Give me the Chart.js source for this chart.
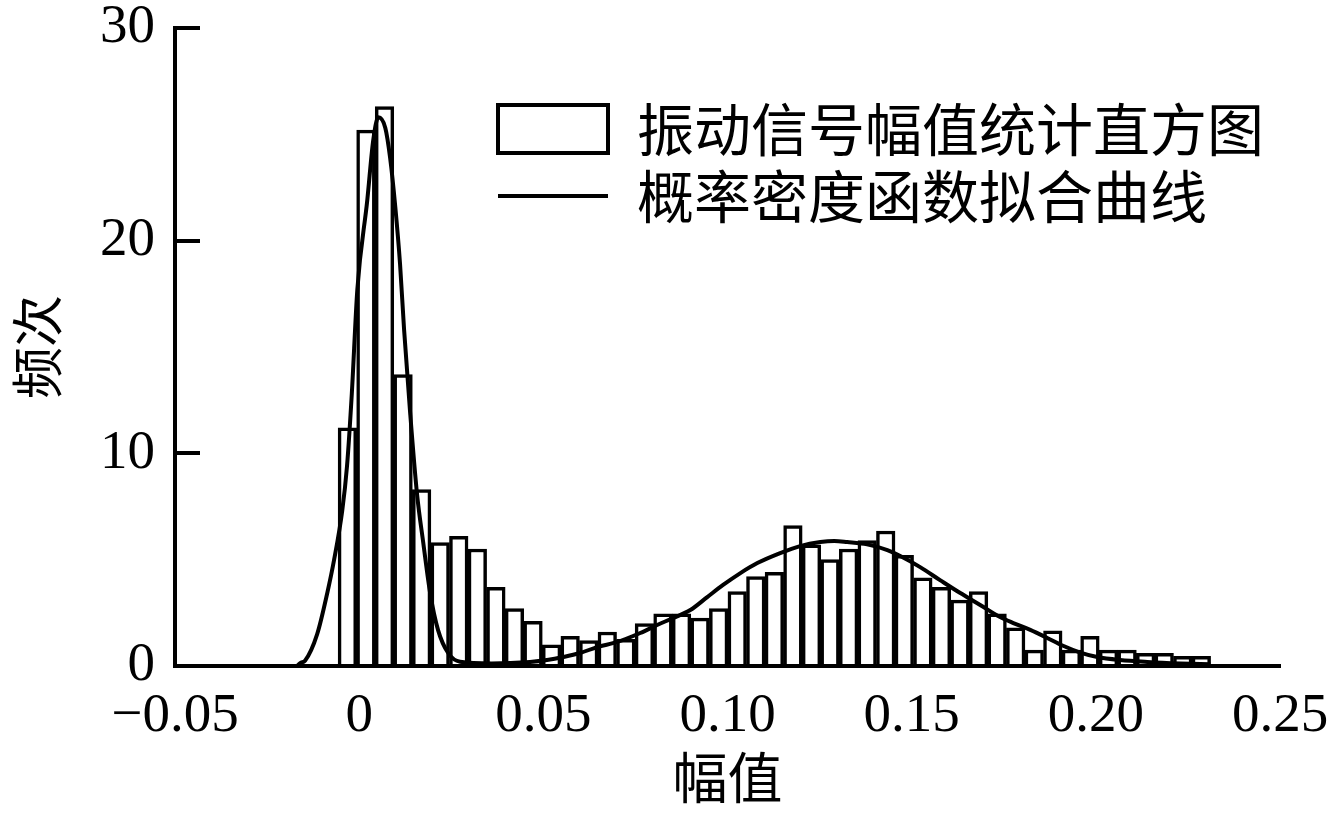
<!DOCTYPE html>
<html>
<head>
<meta charset="utf-8">
<script src="https://cdn.jsdelivr.net/npm/chart.js@4.4.0/dist/chart.umd.min.js"></script>
<style>
body { margin: 0; background: #fff; }
#wrap { width: 1332px; height: 822px; position: relative; }
</style>
</head>
<body>
<div id="wrap"><canvas id="chart"></canvas></div>
<script>
// histogram bins (centre of each bin) and counts
const binCenters = [
    -0.00320, 0.00184, 0.00688, 0.01192, 0.01696, 0.02200, 0.02704, 0.03208,
    0.03712, 0.04216, 0.04720, 0.05224, 0.05728, 0.06232, 0.06736, 0.07240,
    0.07744, 0.08248, 0.08752, 0.09256, 0.09760, 0.10264, 0.10768, 0.11272,
    0.11776, 0.12280, 0.12784, 0.13288, 0.13792, 0.14296, 0.14800, 0.15304,
    0.15808, 0.16312, 0.16816, 0.17320, 0.17824, 0.18328, 0.18832, 0.19336,
    0.19840, 0.20344, 0.20848, 0.21352, 0.21856, 0.22360, 0.22864
];
const binCounts = [
    11.2, 25.2, 26.3, 13.7, 8.3, 5.8, 6.1, 5.5,
    3.7, 2.7, 2.1, 1.0, 1.4, 1.2, 1.6, 1.25,
    2.0, 2.45, 2.45, 2.25, 2.7, 3.5, 4.2, 4.4,
    6.6, 5.7, 5.0, 5.5, 5.9, 6.35, 5.2, 4.15,
    3.7, 3.1, 3.5, 2.45, 1.8, 0.75, 1.65, 0.75,
    1.4, 0.75, 0.75, 0.6, 0.6, 0.45, 0.45
];

// fitted density curve
const curveX = [
    -0.0168, -0.0160, -0.0147, -0.0114, -0.0087, -0.0068, -0.0046, -0.0033,
    -0.0020, -0.0005, 0.0022, 0.0038, 0.0052, 0.0071, 0.0084, 0.0098,
    0.0111, 0.0122, 0.0138, 0.0157, 0.0174, 0.0193, 0.0214, 0.0242,
    0.0274, 0.0360, 0.0464, 0.0510, 0.0554, 0.0600, 0.0646, 0.0701,
    0.0763, 0.0809, 0.0853, 0.0899, 0.0945, 0.0988, 0.1035, 0.1081,
    0.1143, 0.1197, 0.1252, 0.1290, 0.1325, 0.1379, 0.1434, 0.1469,
    0.1523, 0.1577, 0.1632, 0.1686, 0.1740, 0.1776, 0.1822, 0.1868,
    0.1911, 0.1958, 0.2004, 0.2066, 0.2140, 0.2229, 0.2311
];
const curveY = [
    0.0, 0.14, 0.25, 1.5, 3.4, 5.0, 7.3, 9.4,
    12.8, 17.7, 21.9, 24.7, 25.8, 25.3, 23.9, 21.6,
    18.9, 15.8, 12.0, 8.1, 5.8, 3.4, 1.7, 0.6,
    0.2, 0.12, 0.19, 0.28, 0.42, 0.61, 0.89, 1.13,
    1.55, 1.93, 2.26, 2.63, 3.24, 3.81, 4.37, 4.84,
    5.31, 5.64, 5.83, 5.88, 5.83, 5.72, 5.45, 5.17,
    4.65, 4.04, 3.43, 2.87, 2.30, 2.02, 1.70, 1.32,
    0.95, 0.63, 0.42, 0.28, 0.19, 0.12, 0.08
];

const xTickValues = [-0.05, 0, 0.05, 0.10, 0.15, 0.20, 0.25];
const xTickLabels = ["−0.05", "0", "0.05", "0.10", "0.15", "0.20", "0.25"];
const yTickValues = [0, 10, 20, 30];
const yTickLabels = ["0", "10", "20", "30"];
const seriesNames = ["振动信号幅值统计直方图", "概率密度函数拟合曲线"];
const xTitle = "幅值";
const yTitle = "频次";

const serif = "'Liberation Serif', 'Times New Roman', serif";
const cjk = "'Noto Sans CJK SC', sans-serif";

// legend drawn inside the plot area, top right
const insideLegend = {
    id: "insideLegend",
    afterDatasetsDraw(chart) {
        const c = chart.ctx;
        const area = chart.chartArea;
        const x0 = area.left + 323;
        const textX = area.left + 462;
        const row1 = area.top + 101;
        const row2 = area.top + 168;
        c.save();
        c.strokeStyle = "#000";
        c.fillStyle = "#fff";
        c.lineWidth = 4;
        c.fillRect(x0, row1 - 24, 110, 48);
        c.strokeRect(x0, row1 - 24, 110, 48);
        c.beginPath();
        c.moveTo(x0, row2);
        c.lineTo(x0 + 110, row2);
        c.stroke();
        c.fillStyle = "#000";
        c.font = "57px " + cjk;
        c.textBaseline = "middle";
        c.textAlign = "left";
        c.fillText(chart.data.datasets[0].label, textX, row1);
        c.fillText(chart.data.datasets[1].label, textX, row2);
        c.restore();
    }
};

const ctx = document.getElementById("chart");
const chart = new Chart(ctx, {
    type: "bar",
    data: {
        datasets: [
            {
                type: "bar",
                label: seriesNames[0],
                data: binCenters.map((x, i) => ({ x: x, y: binCounts[i] })),
                backgroundColor: "#fff",
                borderColor: "#000",
                borderWidth: 3.5,
                barPercentage: 1,
                categoryPercentage: 1,
                order: 1,
            },
            {
                type: "line",
                label: seriesNames[1],
                data: curveX.map((x, i) => ({ x: x, y: curveY[i] })),
                borderColor: "#000",
                borderWidth: 4,
                pointRadius: 0,
                fill: false,
                cubicInterpolationMode: "monotone",
                order: 0,
            },
        ],
    },
    options: {
        responsive: true,
        maintainAspectRatio: false,
        animation: false,
        layout: { padding: { top: 28, right: 52, left: 0, bottom: 0 } },
        plugins: {
            legend: { display: false },
            tooltip: { enabled: false },
        },
        scales: {
            x: {
                type: "linear",
                offset: false,
                min: -0.05,
                max: 0.25,
                afterBuildTicks: (scale) => {
                    scale.ticks = xTickValues.map((v) => ({ value: v }));
                },
                afterFit: (scale) => {
                    scale.height = 156;
                    scale.paddingLeft = 0;
                    scale.paddingRight = 0;
                },
                ticks: {
                    autoSkip: false,
                    maxRotation: 0,
                    padding: 18,
                    color: "#000",
                    font: { family: serif, size: 55 },
                    callback: (v) => {
                        const i = xTickValues.findIndex((t) => Math.abs(t - v) < 1e-9);
                        return i >= 0 ? xTickLabels[i] : "";
                    },
                },
                grid: { display: true, drawOnChartArea: false, drawTicks: false, offset: false },
                border: { display: true, color: "#000", width: 4 },
                title: {
                    display: true,
                    text: xTitle,
                    color: "#000",
                    font: { family: cjk, size: 55, lineHeight: 1.2 },
                    padding: { top: 0, bottom: 12 },
                },
            },
            y: {
                min: 0,
                max: 30,
                afterBuildTicks: (scale) => {
                    scale.ticks = yTickValues.map((v) => ({ value: v }));
                },
                afterFit: (scale) => {
                    scale.width = 175;
                    scale.paddingTop = 0;
                    scale.paddingBottom = 0;
                },
                ticks: {
                    padding: 45,
                    color: "#000",
                    font: { family: serif, size: 55 },
                    callback: (v) => {
                        const i = yTickValues.indexOf(v);
                        return i >= 0 ? yTickLabels[i] : "";
                    },
                },
                grid: {
                    display: true,
                    drawOnChartArea: false,
                    drawTicks: true,
                    tickLength: -25,
                    color: "#000",
                    lineWidth: 4,
                },
                border: { display: true, color: "#000", width: 4 },
                title: {
                    display: true,
                    text: yTitle,
                    color: "#000",
                    font: { family: cjk, size: 52, lineHeight: 1.2 },
                    padding: { top: 6, bottom: 0 },
                },
            },
        },
    },
    plugins: [insideLegend],
});
</script>
</body>
</html>
